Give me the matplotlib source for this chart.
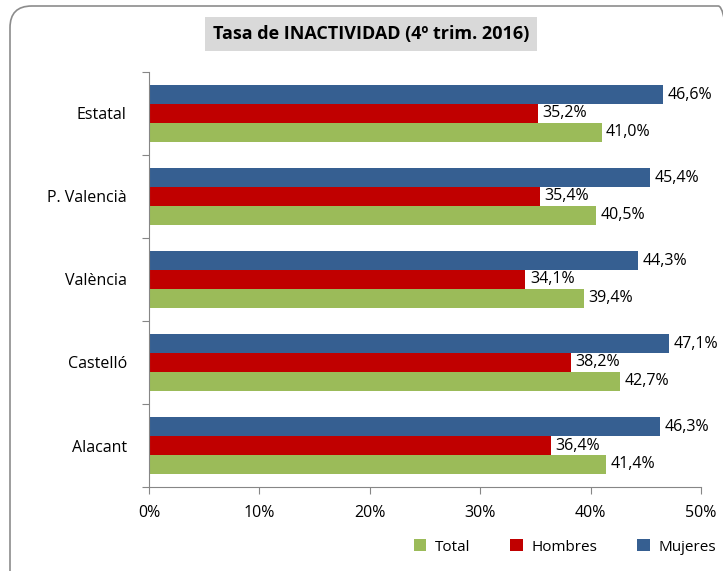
import matplotlib
matplotlib.use("Agg")
import matplotlib.pyplot as plt
import numpy as np
from matplotlib.patches import FancyBboxPatch

plt.rcParams['font.family'] = ['Open Sans', 'DejaVu Sans']

categories = ["Estatal", "P. Valencià", "València", "Castelló", "Alacant"]
total = [41.0, 40.5, 39.4, 42.7, 41.4]
hombres = [35.2, 35.4, 34.1, 38.2, 36.4]
mujeres = [46.6, 45.4, 44.3, 47.1, 46.3]
xticks = [0, 10, 20, 30, 40, 50]

c_total = "#9BBB59"
c_hombres = "#C00000"
c_mujeres = "#365F91"

fig = plt.figure(figsize=(7.23, 5.71), dpi=100)
ax = fig.add_axes([149/723, 1-487/571, 552/723, 415/571])

n = len(categories)
pos = np.arange(n)[::-1] + 0.5  # Estatal at top
h = 0.225
ax.barh(pos - h, total, height=h, color=c_total, label="Total")
ax.barh(pos, hombres, height=h, color=c_hombres, label="Hombres")
ax.barh(pos + h, mujeres, height=h, color=c_mujeres, label="Mujeres")

def fmt(v):
    return f"{v:.1f}%".replace(".", ",")

for series, off in ((total, -h), (hombres, 0), (mujeres, h)):
    for p, v in zip(pos, series):
        ax.text(v + 0.4, p + off, fmt(v), va="center", ha="left", fontsize=11.5, color="#000000")

ax.set_xlim(0, 50)
ax.set_ylim(0, n)
ax.set_xticks(xticks)
ax.set_xticklabels([f"{t}%" for t in xticks], fontsize=11.5)
ax.set_yticks(np.arange(n + 1))
ax.set_yticklabels([])
ax.set_yticks(pos, minor=True)
ax.set_yticklabels(categories, minor=True, fontsize=11.5)
ax.tick_params(axis="y", which="minor", length=0, pad=16)
ax.tick_params(axis="y", which="major", length=5, color="#868686", direction="out")
ax.tick_params(axis="x", length=5, color="#868686", direction="out", pad=8)
for s in ["top", "right"]:
    ax.spines[s].set_visible(False)
for s in ["left", "bottom"]:
    ax.spines[s].set_color("#868686")

# Title
fig.text(371/723, 1-34/571, "Tasa de INACTIVIDAD (4º trim. 2016)", ha="center", va="center",
         fontsize=13, fontweight="bold",
         bbox=dict(boxstyle="square,pad=0.45", facecolor="#D9D9D9", edgecolor="none"))

# Legend
handles, labels = ax.get_legend_handles_labels()
leg = fig.legend(handles, labels, loc="center", bbox_to_anchor=(565/723, 1-547/571), ncol=3,
                 frameon=False, fontsize=11, handlelength=0.8, handleheight=0.8,
                 columnspacing=2.6, handletextpad=0.6)

# Rounded outer border
border = FancyBboxPatch((10/723, -0.05), 730/723, 1.05 - 6/571, transform=fig.transFigure,
                        boxstyle="round,pad=0,rounding_size=0.03", facecolor="none",
                        edgecolor="#8C8C8C", linewidth=1.2, mutation_aspect=723/571)
fig.patches.append(border)

fig.savefig("out.png", dpi=100)
